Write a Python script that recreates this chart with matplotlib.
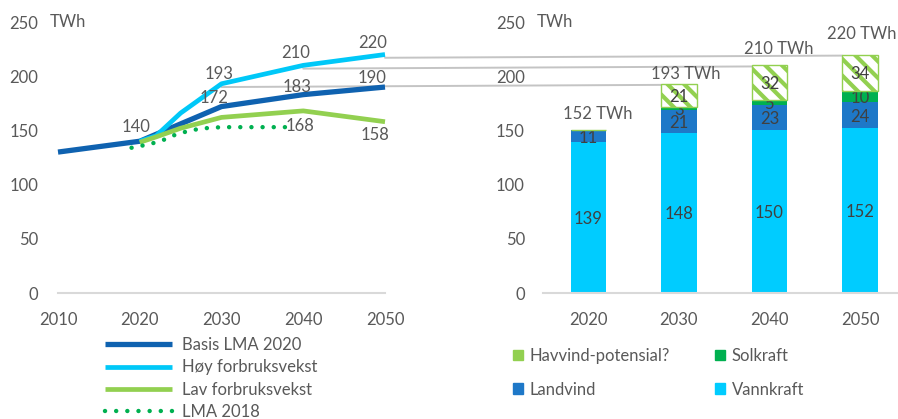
import matplotlib
matplotlib.use("Agg")
import matplotlib.pyplot as plt
from matplotlib.patches import Patch, ConnectionPatch

plt.rcParams['font.family'] = ['Lato', 'DejaVu Sans']
plt.rcParams['hatch.linewidth'] = 3.0

# ---- line chart: demand scenarios (TWh) ----
basis_years = [2010, 2020, 2030, 2040, 2050]
basis_vals = [130, 140, 172, 183, 190]

hoy_years = [2020, 2022, 2025, 2030, 2040, 2050]
hoy_vals = [140, 145, 166, 193, 210, 220]

lav_years = [2020, 2022, 2025, 2030, 2040, 2050]
lav_vals = [139, 144, 152, 162, 168, 158]

lma18_years = [2019, 2020, 2021, 2022, 2023, 2024, 2025, 2026, 2027, 2028, 2029, 2030, 2035, 2039]
lma18_vals = [134, 135.5, 137, 139, 141.5, 145, 147.5, 149.5, 151, 152, 152.5, 153, 153, 153]

# ---- stacked bars: production (TWh) ----
bar_years = ['2020', '2030', '2040', '2050']
vannkraft = [139, 148, 150, 152]
landvind = [11, 21, 23, 24]
solkraft = [0, 3, 5, 10]
havvind = [0, 21, 32, 34]
totals = [152, 193, 210, 220]

C_BASIS = '#0F62B0'
C_HOY = '#00C8F8'
C_LAV = '#92D050'
C_LMA = '#00B050'
C_VANN = '#00CCFF'
C_LAND = '#1E78C8'
C_SOL = '#00B050'
C_HAV = '#92D050'
GREY_TXT = '#595959'
DARK_TXT = '#404040'
AXIS_GREY = '#D9D9D9'
FS = 12

W, H = 898, 419
fig = plt.figure(figsize=(W / 100, H / 100), dpi=100)
ax1 = fig.add_axes([58 / W, 1 - 293 / H, (385 - 58) / W, (293 - 22) / H])
ax2 = fig.add_axes([543 / W, 1 - 293 / H, (W - 543) / W, (293 - 22) / H])


def style_axis(ax):
    ax.set_facecolor('none')
    for s in ['top', 'right', 'left']:
        ax.spines[s].set_visible(False)
    ax.spines['bottom'].set_color(AXIS_GREY)
    ax.spines['bottom'].set_linewidth(1.5)
    ax.tick_params(length=0, labelsize=FS, labelcolor=GREY_TXT)
    ax.set_ylim(0, 250)
    ax.set_yticks(range(0, 251, 50))


# left: scenario lines
style_axis(ax1)
ax1.set_xlim(2010, 2050)
ax1.set_xticks(range(2010, 2051, 10))
ax1.tick_params(axis='x', pad=14)
ax1.tick_params(axis='y', pad=14)

ax1.plot(basis_years, basis_vals, color=C_BASIS, lw=3.8, solid_capstyle='butt', clip_on=False, label='Basis LMA 2020')
ax1.plot(hoy_years, hoy_vals, color=C_HOY, lw=3.4, solid_capstyle='butt', clip_on=False, label='Høy forbruksvekst')
ax1.plot(lav_years, lav_vals, color=C_LAV, lw=3.4, solid_capstyle='butt', clip_on=False, label='Lav forbruksvekst')
ax1.plot(lma18_years, lma18_vals, color=C_LMA, lw=3.2, linestyle=(0, (0.01, 2.5)),
         dash_capstyle='round', clip_on=False, label='LMA 2018')

# value labels: (years, values, year to label, pixel offset)
line_labels = [
    (basis_years, basis_vals, 2020, (-4, 14)),
    (basis_years, basis_vals, 2030, (-7, 9)),
    (basis_years, basis_vals, 2040, (-6, 8)),
    (basis_years, basis_vals, 2050, (-13, 9)),
    (hoy_years, hoy_vals, 2030, (-2, 10)),
    (hoy_years, hoy_vals, 2040, (-8, 12)),
    (hoy_years, hoy_vals, 2050, (-12, 12)),
    (lav_years, lav_vals, 2040, (-3, -15)),
    (lav_years, lav_vals, 2050, (-10, -13)),
]
for yrs, vals, yr, off in line_labels:
    v = vals[yrs.index(yr)]
    ax1.annotate(f'{v}', (yr, v), xytext=off, textcoords='offset pixels',
                 ha='center', va='center', fontsize=FS, color=GREY_TXT,
                 annotation_clip=False)

fig.text(50 / W, 1 - 22 / H, 'TWh', fontsize=FS, color=GREY_TXT, ha='left', va='center')

leg1 = ax1.legend(loc='upper left', bbox_to_anchor=(105 / W, 1 - 337 / H),
                  bbox_transform=fig.transFigure, frameon=False, fontsize=FS,
                  handlelength=4.0, handletextpad=0.6, labelspacing=0.38,
                  borderaxespad=0, borderpad=0)
for t in leg1.get_texts():
    t.set_color(GREY_TXT)

# right: stacked production bars
style_axis(ax2)
x = list(range(len(bar_years)))
ax2.set_xlim(-0.5, 3 + (W - 860) / 90.5)
ax2.set_xticks(x)
ax2.set_xticklabels(bar_years)
ax2.tick_params(axis='x', pad=14)
ax2.tick_params(axis='y', pad=13)

bw = 0.39
b_land = [v + l for v, l in zip(vannkraft, landvind)]
b_sol = [b + s for b, s in zip(b_land, solkraft)]

ax2.bar(x, vannkraft, bw, color=C_VANN, zorder=2)
ax2.bar(x, landvind, bw, bottom=vannkraft, color=C_LAND, zorder=2)
ax2.bar(x, solkraft, bw, bottom=b_land, color=C_SOL, zorder=2)
ax2.bar(x, havvind, bw, bottom=b_sol, color='white', edgecolor=C_HAV,
        hatch='\\\\', linewidth=1.0, zorder=4)

segments = [(vannkraft, [0] * 4, 3), (landvind, vannkraft, 3), (solkraft, b_land, 3), (havvind, b_sol, 5)]
for vals, bottoms, z in segments:
    for i, (v, b) in enumerate(zip(vals, bottoms)):
        if v > 0:
            ax2.text(i, b + v / 2, f'{v}', ha='center', va='center_baseline',
                     fontsize=FS, color=DARK_TXT, zorder=z)

total_dx = [0.1, 0.08, 0.1, 0.02]
total_y = [165, 202, 225, 239]
for i, t in enumerate(totals):
    ax2.text(i + total_dx[i], total_y[i], f'{t} TWh', ha='center', va='center',
             fontsize=FS, color=GREY_TXT, zorder=6, clip_on=False)

fig.text(537 / W, 1 - 22 / H, 'TWh', fontsize=FS, color=GREY_TXT, ha='left', va='center')

handles2 = [Patch(color=C_HAV, label='Havvind-potensial?'),
            Patch(color=C_LAND, label='Landvind'),
            Patch(color=C_SOL, label='Solkraft'),
            Patch(color=C_VANN, label='Vannkraft')]
leg2 = ax2.legend(handles=handles2, ncol=2, loc='upper left',
                  bbox_to_anchor=(513 / W, 1 - 348 / H), bbox_transform=fig.transFigure,
                  frameon=False, fontsize=FS, handlelength=0.6, handleheight=0.6,
                  handletextpad=0.4, labelspacing=1.05, columnspacing=2.7,
                  borderaxespad=0, borderpad=0)
for t in leg2.get_texts():
    t.set_color(GREY_TXT)

# thin guide lines from the high-demand path to the bar tops
for yr, i in [(2030, 1), (2040, 2), (2050, 3)]:
    v = hoy_vals[hoy_years.index(yr)]
    con = ConnectionPatch(xyA=(yr, v - 3), coordsA=ax1.transData,
                          xyB=(i - bw / 2, totals[i] - 1), coordsB=ax2.transData,
                          color='#C4C4C4', lw=1.4, zorder=0)
    fig.add_artist(con)

fig.savefig('out.png', dpi=100)
